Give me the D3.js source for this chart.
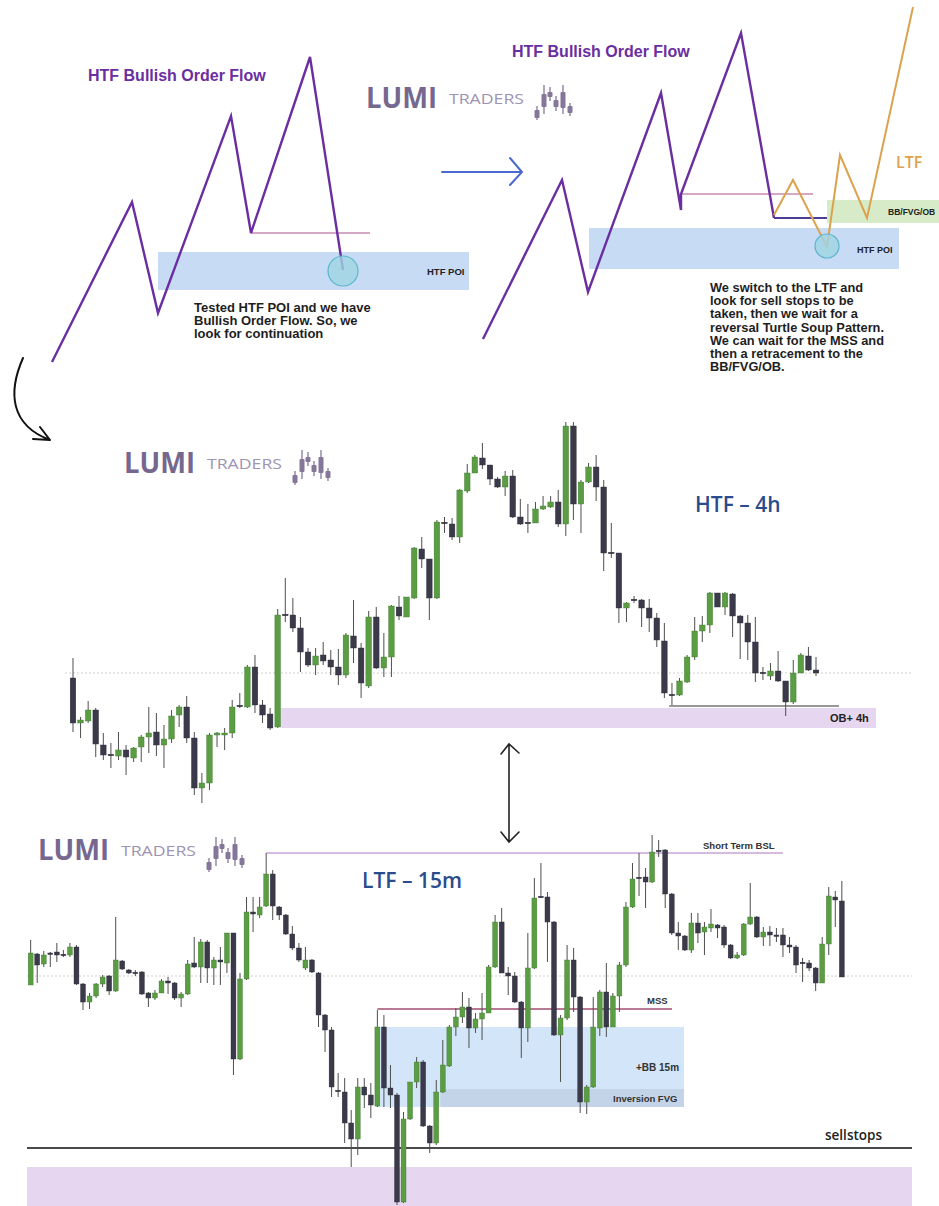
<!DOCTYPE html>
<html><head><meta charset="utf-8">
<script src="https://cdn.jsdelivr.net/npm/d3@7"></script>
<style>body{margin:0;background:#fff}svg{display:block}</style>
</head><body><svg id="c" width="939" height="1206"></svg>
<script>
// ---------------- DATA ----------------
// HTF 4h candles (price points)
const htfOpen  = [322,277,279,290,255,245,244,250,242,253,263,268,255,261,285,293,262,212,217,265,265,267,294,293,333,295,286,273,385,385,372,348,335,345,340,333,325,364,352,314,383,332,343,393,383,402,451,441,402,477,476,463,509,527,542,535,521,513,524,483,477,477,491,493,498,476,574,496,518,533,513,447,447,392,400,400,392,382,359,305,305,318,343,369,375,407,393,406,384,377,358,327,324,329,319,298,327,344,330];
const htfHigh  = [342,283,299,292,267,257,268,255,253,265,293,287,275,290,295,304,268,227,267,268,272,300,307,335,345,300,292,391,422,402,383,352,352,358,350,351,367,400,357,389,393,367,395,404,403,453,463,441,480,483,482,511,536,545,557,535,523,529,530,501,496,498,504,504,510,578,578,520,537,545,520,477,447,398,404,401,401,387,377,317,322,345,383,384,408,407,408,407,385,385,383,333,337,349,319,340,347,353,343];
const htfLow   = [268,262,277,243,240,232,240,225,238,238,247,244,232,257,273,257,205,197,210,253,250,262,292,292,287,277,270,272,378,368,328,333,325,335,325,315,322,337,302,312,331,323,323,380,383,401,432,380,401,467,460,457,507,527,531,515,512,504,482,475,467,477,490,492,473,464,480,467,517,499,429,442,377,378,397,373,368,353,302,295,304,317,340,358,367,393,385,363,341,340,318,320,320,318,284,296,327,329,324];
const htfClose = [277,280,290,256,245,245,250,243,252,263,267,255,261,284,293,262,212,217,265,267,267,293,294,333,295,285,272,385,385,372,348,335,344,339,333,325,365,352,317,383,332,343,394,384,403,452,441,402,478,477,463,510,527,543,535,521,513,524,483,476,477,491,494,498,476,574,496,518,533,513,447,447,392,397,400,392,382,360,307,305,319,343,369,375,407,393,407,384,377,358,327,327,329,319,298,327,345,330,327];
const htfLevels = {mid: 327, obTop: 292, obBottom: 272, lowLine: 294};

// LTF 15m candles (price points)
const ltfOpen  = [315,346,336,347,348,345,345,353,316,298,304,316,324,309,339,330,327,328,307,302,307,319,317,302,306,337,333,358,332,340,337,367,241,321,388,385,394,426,393,385,366,352,332,340,327,285,270,209,208,177,161,213,205,194,273,212,205,98,181,218,238,174,157,208,234,273,283,293,272,281,287,333,378,327,324,298,272,332,403,403,378,265,282,340,303,198,213,272,308,273,304,335,393,422,423,418,449,450,406,367,364,350,377,368,372,375,373,355,342,345,376,383,363,368,365,365,355,353,337,337,332,317,356,403,399];
const ltfHigh  = [360,347,349,348,357,350,357,355,317,307,317,325,325,383,340,331,330,329,308,310,321,323,318,308,340,363,361,360,343,353,367,367,327,403,403,403,447,430,394,386,374,357,353,341,328,286,273,227,222,190,222,222,217,290,285,235,207,188,218,243,240,175,220,260,275,292,308,302,287,307,335,385,392,333,328,299,367,422,437,408,379,285,355,352,304,215,303,310,337,307,338,398,437,447,432,465,460,451,407,378,365,387,387,378,391,376,375,356,348,377,417,384,373,374,372,372,363,355,342,340,333,363,413,409,419];
const ltfLow   = [315,317,333,333,338,343,343,315,290,291,302,313,305,308,330,326,324,305,293,300,307,306,300,293,305,332,317,317,315,315,327,225,240,320,368,382,393,380,380,365,350,338,330,327,273,248,203,203,157,133,145,192,182,193,193,192,95,97,180,212,173,147,155,207,233,264,277,252,267,260,287,332,327,305,297,242,258,331,402,338,264,218,280,288,187,186,212,264,263,273,288,333,392,404,392,417,443,392,365,350,349,347,357,345,368,362,352,341,341,344,375,362,354,354,358,343,347,327,318,329,309,317,345,373,323];
const ltfClose = [347,335,345,346,345,345,353,316,298,304,316,323,309,340,331,327,327,306,302,307,319,317,302,306,336,333,358,332,340,338,367,241,321,388,386,393,426,394,385,366,352,340,340,328,285,270,213,209,177,161,213,205,195,273,212,205,98,181,218,238,174,157,208,235,273,283,293,272,281,287,333,378,327,324,298,272,332,402,403,378,265,282,340,303,198,213,273,308,273,304,335,393,421,422,418,448,449,406,367,364,350,377,367,373,376,372,355,342,345,376,383,363,368,365,364,355,353,335,337,332,317,356,404,400,323];
const ltfLevels = {mid: 324, bsl: 447, mss: 291, bbTop: 273, bbBottom: 193, fvgTop: 211, sellstops: 152, obTop: 133};
const bslFrom = 36, mssFrom = 53, fvgFrom = 63, bbFrom = 53;

// Schematic order-flow swings (t = time units, level = height units)
const leftFlowT      = [0, 80, 106, 179, 199, 258, 291];
const leftFlowLevel  = [38, 198, 87, 284, 167, 343, 130];
const rightFlowT     = [0, 79, 105, 178, 198, 198, 258, 291];
const rightFlowLevel = [61, 220, 108, 307, 190, 206, 367, 182];
const ltfFlowT       = [291, 310, 344, 357, 384, 430];
const ltfFlowLevel   = [185, 220, 153, 245, 182, 393];

// Logo icon candles: [x offset, bodyTop, bodyBottom, wickTop, wickBottom]
const logoCandles = [[4,25,33,21,35],[11,9,22,0,29],[17,7,12,2,16],[23,15,22,11,26],[30,7,23,0,29],[37,21,28,18,31]];

const leftText  = ["Tested HTF POI and we have", "Bullish Order Flow. So, we", "look for continuation"];
const rightText = ["We switch to the LTF and", "look for sell stops to be", "taken, then we wait for a", "reversal Turtle Soup Pattern.", "We can wait for the MSS  and", "then a retracement to the", "BB/FVG/OB."];

// ---------------- DRAW ----------------
(function(){
const svg = d3.select('#c');
svg.append('rect').attr('width',939).attr('height',1206).attr('fill','#fff');
const GREEN = '#5a9d43', DARK = '#3a3a4a', WICK = '#4e4e4e';
const PURPLE = '#6a2ea0', LBLUE = '#c8dbf5', LPURP = '#e6d6ef';
const boldF = "'Liberation Sans', Arial, sans-serif";
const headF = "'Open Sans', 'Noto Sans', sans-serif";

// ---------- schematic diagrams ----------
const dY = d3.scaleLinear().domain([0,400]).range([400,0]);
const lX = d3.scaleLinear().domain([0,291]).range([52,343]);
const rX = d3.scaleLinear().domain([0,291]).range([483,774]);
const topG = svg.append('g');

// left
topG.append('rect').attr('x',158).attr('y',252).attr('width',311).attr('height',38).attr('fill',LBLUE);
topG.append('line').attr('x1',lX(leftFlowT[4])).attr('x2',370).attr('y1',dY(leftFlowLevel[4])).attr('y2',dY(leftFlowLevel[4]))
  .attr('stroke','#c98bb5').attr('stroke-width',1.5);
topG.append('path').datum(d3.range(leftFlowT.length))
  .attr('d', d3.line().x(i=>lX(leftFlowT[i])).y(i=>dY(leftFlowLevel[i])))
  .attr('fill','none').attr('stroke',PURPLE).attr('stroke-width',2.4).attr('stroke-linejoin','miter');
topG.append('circle').attr('cx',lX(291)).attr('cy',dY(leftFlowLevel[6])+1).attr('r',15)
  .attr('fill','#9fd4e3').attr('fill-opacity',0.8).attr('stroke','#5bb6cf').attr('stroke-width',1.2);
topG.append('text').attr('x',427).attr('y',275).text('HTF POI').attr('font-family',boldF).attr('font-weight','bold').attr('font-size',9.5).attr('fill','#222');
topG.append('text').attr('x',88).attr('y',81).text('HTF Bullish Order Flow').attr('font-family',boldF).attr('font-weight','bold').attr('font-size',16).attr('fill',PURPLE);
topG.append('text').attr('font-family',boldF).attr('font-weight','bold').attr('font-size',13).attr('fill','#1e1e1e')
  .selectAll('tspan').data(leftText).join('tspan').attr('x',194).attr('y',(d,i)=>312+i*13).text(d=>d);

// blue arrow
topG.append('path').attr('d','M442,172 L522,172 M510,158 L522,172 L510,185').attr('fill','none')
  .attr('stroke','#4a69cf').attr('stroke-width',2).attr('stroke-linecap','round');

// right
topG.append('rect').attr('x',589).attr('y',228).attr('width',310).attr('height',41).attr('fill',LBLUE);
topG.append('rect').attr('x',827).attr('y',200).attr('width',112).attr('height',23).attr('fill','#d8ebc8');
topG.append('line').attr('x1',rX(198)).attr('x2',813).attr('y1',dY(206)).attr('y2',dY(206)).attr('stroke','#c98bb5').attr('stroke-width',1.5);
topG.append('line').attr('x1',rX(291)).attr('x2',827).attr('y1',dY(182)).attr('y2',dY(182)).attr('stroke','#4b3c98').attr('stroke-width',2);
topG.append('path').datum(d3.range(rightFlowT.length))
  .attr('d', d3.line().x(i=>rX(rightFlowT[i])).y(i=>dY(rightFlowLevel[i])))
  .attr('fill','none').attr('stroke',PURPLE).attr('stroke-width',2.4);
topG.append('path').datum(d3.range(ltfFlowT.length))
  .attr('d', d3.line().x(i=>rX(ltfFlowT[i])).y(i=>dY(ltfFlowLevel[i])))
  .attr('fill','none').attr('stroke','#dca24e').attr('stroke-width',2);
topG.append('circle').attr('cx',rX(344)).attr('cy',dY(153)-1).attr('r',12)
  .attr('fill','#9fd4e3').attr('fill-opacity',0.8).attr('stroke','#5bb6cf').attr('stroke-width',1.2);
topG.append('text').attr('x',857).attr('y',253).text('HTF POI').attr('font-family',boldF).attr('font-weight','bold').attr('font-size',9).attr('fill','#222');
topG.append('text').attr('x',888).attr('y',215).text('BB/FVG/OB').attr('font-family',boldF).attr('font-weight','bold').attr('font-size',8.5).attr('fill','#222');
topG.append('text').attr('x',896).attr('y',168).text('LTF').attr('font-family',headF).attr('font-weight',600).attr('font-size',16).attr('fill','#dca24e');
topG.append('text').attr('x',512).attr('y',57).text('HTF Bullish Order Flow').attr('font-family',boldF).attr('font-weight','bold').attr('font-size',16).attr('fill',PURPLE);
topG.append('text').attr('font-family',boldF).attr('font-weight','bold').attr('font-size',12.8).attr('fill','#1e1e1e')
  .selectAll('tspan').data(rightText).join('tspan').attr('x',710).attr('y',(d,i)=>292+i*13.2).text(d=>d);

// curved arrow & double arrow
svg.append('path').attr('d','M23,358 C8,392 10,425 50,440 M40,427 L50,440 L33,439').attr('fill','none')
  .attr('stroke','#111').attr('stroke-width',2).attr('stroke-linecap','round').attr('stroke-linejoin','round');
svg.append('path').attr('d','M509,744 L509,842 M501,754 L509,744 L519,753 M501,832 L509,842 L519,832').attr('fill','none')
  .attr('stroke','#222').attr('stroke-width',1.6).attr('stroke-linecap','round');

// ---------- logos ----------
function logo(x, y) {
  const g = svg.append('g').attr('transform',`translate(${x},${y})`);
  g.append('text').attr('x',0).attr('y',0).text('LUMI').attr('font-family',headF).attr('font-weight',700)
    .attr('font-size',28).attr('fill','#76678f').attr('textLength',71).attr('lengthAdjust','spacingAndGlyphs');
  g.append('text').attr('x',83).attr('y',-4).text('TRADERS').attr('font-family',headF).attr('font-weight',400)
    .attr('font-size',15).attr('fill','#9d93b3').attr('textLength',75).attr('lengthAdjust','spacingAndGlyphs');
  const ic = g.append('g').attr('transform','translate(167,-23)');
  ic.selectAll('line').data(logoCandles).join('line').attr('x1',d=>d[0]).attr('x2',d=>d[0]).attr('y1',d=>d[3]).attr('y2',d=>d[4])
    .attr('stroke','#857799').attr('stroke-width',1.3);
  ic.selectAll('rect').data(logoCandles).join('rect').attr('x',d=>d[0]-2.5).attr('width',5).attr('y',d=>d[1]).attr('height',d=>d[2]-d[1])
    .attr('rx',1).attr('fill','#857799');
}
logo(366, 108);
logo(124, 473);
logo(38, 860);

// ---------- candles ----------
function candles(g, O, H, L, C, x, y) {
  const idx = d3.range(O.length), bw = x.bandwidth();
  g.selectAll('line.w').data(idx).join('line').attr('class','w')
    .attr('x1',i=>x(i)+bw/2).attr('x2',i=>x(i)+bw/2).attr('y1',i=>y(H[i])).attr('y2',i=>y(L[i]))
    .attr('stroke',WICK).attr('stroke-width',1);
  g.selectAll('rect.b').data(idx).join('rect').attr('class','b')
    .attr('x',i=>x(i)).attr('width',bw)
    .attr('y',i=> O[i]===C[i] ? y(O[i])-0.75 : y(Math.max(O[i],C[i])))
    .attr('height',i=>Math.max(1.5, Math.abs(y(O[i])-y(C[i]))))
    .attr('fill',i=> C[i]>O[i] ? GREEN : DARK)
    .attr('stroke',i=> C[i]>O[i] ? '#3f7a2e' : '#2a2a36').attr('stroke-width',0.4);
}

// HTF
const hx = d3.scaleBand().domain(d3.range(htfOpen.length)).range([69.2, 819.8]).paddingInner(0.26).paddingOuter(0.13);
const hy = d3.scaleLinear().domain([180, 600]).range([820, 400]);
const hg = svg.append('g');
hg.append('line').attr('x1',65).attr('x2',912).attr('y1',hy(htfLevels.mid)).attr('y2',hy(htfLevels.mid))
  .attr('stroke','#cfcfcf').attr('stroke-dasharray','2,2');
hg.append('rect').attr('x',hx(27)+hx.bandwidth()).attr('width',876-(hx(27)+hx.bandwidth()))
  .attr('y',hy(htfLevels.obTop)).attr('height',hy(htfLevels.obBottom)-hy(htfLevels.obTop)).attr('fill',LPURP);
hg.append('line').attr('x1',hx(79)).attr('x2',839).attr('y1',hy(htfLevels.lowLine)).attr('y2',hy(htfLevels.lowLine))
  .attr('stroke','#333').attr('stroke-width',1.2);
candles(hg, htfOpen, htfHigh, htfLow, htfClose, hx, hy);
hg.append('text').attr('x',830).attr('y',722).text('OB+ 4h').attr('font-family',boldF).attr('font-weight','bold').attr('font-size',11).attr('fill','#222');
hg.append('text').attr('x',695).attr('y',512).text('HTF – 4h').attr('font-family',headF).attr('font-weight',600).attr('font-size',21).attr('fill','#2b4c8c');

// LTF
const lx = d3.scaleBand().domain(d3.range(ltfOpen.length)).range([27.4, 845.1]).paddingInner(0.25).paddingOuter(0.125);
const ly = d3.scaleLinear().domain([90, 480]).range([1210, 820]);
const lg = svg.append('g');
lg.append('rect').attr('x',27).attr('width',885).attr('y',ly(ltfLevels.obTop)).attr('height',1206-ly(ltfLevels.obTop)).attr('fill',LPURP);
lg.append('line').attr('x1',27).attr('x2',912).attr('y1',ly(ltfLevels.mid)).attr('y2',ly(ltfLevels.mid))
  .attr('stroke','#cfcfcf').attr('stroke-dasharray','2,2');
lg.append('rect').attr('x',lx(bbFrom)).attr('width',684-lx(bbFrom)).attr('y',ly(ltfLevels.bbTop))
  .attr('height',ly(ltfLevels.bbBottom)-ly(ltfLevels.bbTop)).attr('fill','#d3e6f9');
lg.append('rect').attr('x',lx(fvgFrom)).attr('width',684-lx(fvgFrom)).attr('y',ly(ltfLevels.fvgTop))
  .attr('height',ly(ltfLevels.bbBottom)-ly(ltfLevels.fvgTop)).attr('fill','#c3d4e8');
lg.append('line').attr('x1',lx(bslFrom)+lx.bandwidth()/2).attr('x2',783).attr('y1',ly(ltfLevels.bsl)).attr('y2',ly(ltfLevels.bsl))
  .attr('stroke','#c9a3d6').attr('stroke-width',1.6);
lg.append('line').attr('x1',lx(mssFrom)+lx.bandwidth()/2).attr('x2',672).attr('y1',ly(ltfLevels.mss)).attr('y2',ly(ltfLevels.mss))
  .attr('stroke','#a24d72').attr('stroke-width',1.3);
lg.append('line').attr('x1',27).attr('x2',912).attr('y1',ly(ltfLevels.sellstops)).attr('y2',ly(ltfLevels.sellstops))
  .attr('stroke','#4a4a4a').attr('stroke-width',2);
candles(lg, ltfOpen, ltfHigh, ltfLow, ltfClose, lx, ly);
const small = (t,x,y,s)=>lg.append('text').attr('x',x).attr('y',y).text(t).attr('font-family',boldF).attr('font-weight','bold').attr('font-size',s||9.5).attr('fill','#333');
small('Short Term BSL',703,849);
small('MSS',647,1004);
small('+BB 15m',636,1071,10);
small('Inversion FVG',613,1102);
lg.append('text').attr('x',825).attr('y',1140).text('sellstops').attr('font-family',headF).attr('font-weight',600).attr('font-size',13.5).attr('fill','#222');
lg.append('text').attr('x',362).attr('y',888).text('LTF – 15m').attr('font-family',headF).attr('font-weight',600).attr('font-size',21).attr('fill','#2b4c8c');
})();
</script></body></html>
